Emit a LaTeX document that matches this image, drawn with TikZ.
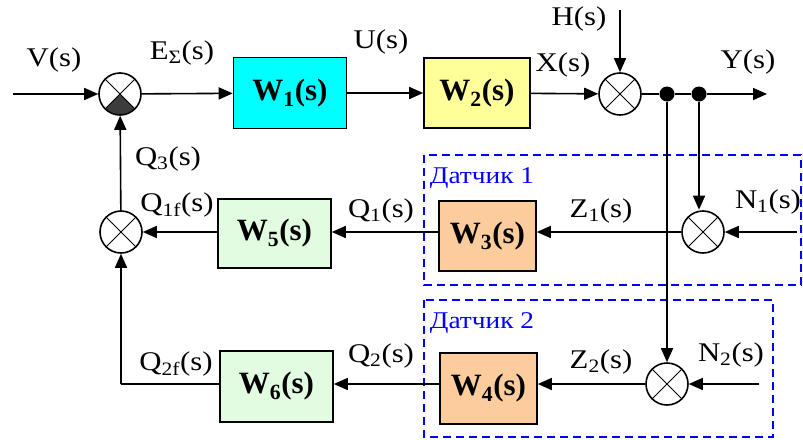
\documentclass[tikz,border=0pt]{standalone}
\usepackage{fontspec}
\setmainfont{Liberation Serif}[FakeStretch=1.14]
\newfontfamily\blockfont{Liberation Serif}
\usetikzlibrary{arrows.meta}

\definecolor{blkcyan}{RGB}{0,255,255}
\definecolor{blkyellow}{RGB}{255,255,153}
\definecolor{blkgreen}{RGB}{226,252,226}
\definecolor{blkorange}{RGB}{252,204,156}
\definecolor{sensorblue}{RGB}{0,0,255}
\definecolor{sectorgray}{RGB}{60,60,60}

\tikzset{
  sig/.style={line width=1.6pt, -{Triangle[length=14pt,width=12pt]}},
  wire/.style={line width=1.6pt},
  block/.style={draw, line width=1.6pt, inner sep=0pt,
    font=\blockfont\bfseries\fontsize{31}{35}\selectfont},
  sumj/.style={circle, draw, line width=1.6pt, minimum size=42pt, inner sep=0pt,
    path picture={
      \draw[line width=0.9pt] (path picture bounding box.north east) -- (path picture bounding box.south west);
      \draw[line width=0.9pt] (path picture bounding box.north west) -- (path picture bounding box.south east);
    }},
  sumdark/.style={sumj,
    path picture={
      \fill[sectorgray] (path picture bounding box.center) -- (path picture bounding box.south west)
        -- (path picture bounding box.south east) -- cycle;
      \draw[line width=0.9pt] (path picture bounding box.north east) -- (path picture bounding box.south west);
      \draw[line width=0.9pt] (path picture bounding box.north west) -- (path picture bounding box.south east);
    }},
  lbl/.style={inner sep=0pt, font=\fontsize{27}{30}\selectfont},
  sensor/.style={draw=sensorblue, line width=1.5pt, dash pattern=on 8pt off 5pt},
  sensorlbl/.style={inner sep=0pt, text=sensorblue, font=\fontsize{24}{28}\selectfont},
  dot/.style={circle, fill, inner sep=0pt, minimum size=15pt},
}

\begin{document}
\begin{tikzpicture}[x=1pt,y=-1pt]
  \useasboundingbox (0,0) rectangle (803,439);

  % sensor frames
  \draw[sensor] (424,155) rectangle (801,285);
  \draw[sensor] (424,300) rectangle (773,437);
  \node[sensorlbl] (d1) at (482,178) {Датчик 1};
  \node[sensorlbl] (d2) at (482,323) {Датчик 2};

  % forward path
  \coordinate (vin) at (13,94);
  \node[sumdark] (s0) at (120,94) {};
  \node[block, fill=blkcyan, minimum width=113pt, minimum height=71pt] (w1) at (290,93) {W\textsubscript{1}(s)};
  \node[block, fill=blkyellow, minimum width=106pt, minimum height=70pt] (w2) at (477,93) {W\textsubscript{2}(s)};
  \node[sumj] (s1) at (620,94) {};
  \coordinate (hin) at (620,10);
  \node[dot] (p1) at (667,94) {};
  \node[dot] (p2) at (699,94) {};
  \coordinate (yout) at (767,94);

  % sensor 1 branch
  \node[sumj] (s2) at (703,232) {};
  \coordinate (n1in) at (797,232);
  \node[block, fill=blkorange, minimum width=97pt, minimum height=70pt] (w3) at (487.5,236) {W\textsubscript{3}(s)};
  \node[block, fill=blkgreen, minimum width=113pt, minimum height=69pt] (w5) at (274.5,233.5) {W\textsubscript{5}(s)};
  \node[sumj] (s4) at (121,232) {};

  % sensor 2 branch
  \node[sumj] (s3) at (667,384) {};
  \coordinate (n2in) at (759,384);
  \node[block, fill=blkorange, minimum width=97pt, minimum height=71pt] (w4) at (488.5,388.5) {W\textsubscript{4}(s)};
  \node[block, fill=blkgreen, minimum width=113pt, minimum height=71pt] (w6) at (276.5,386.5) {W\textsubscript{6}(s)};
  \coordinate (corner) at (121,384);

  % connectors
  \draw[sig] (vin) -- (s0);
  \draw[sig] (s0) -- (w1);
  \draw[sig] (w1) -- (w2);
  \draw[sig] (w2) -- (s1);
  \draw[sig] (hin) -- (s1);
  \draw[wire] (s1) -- (p1) -- (p2);
  \draw[sig] (p2) -- (yout);
  \draw[sig] (p1) -- (s3);
  \draw[sig] (p2) -- ([yshift=0.5pt]p2 |- s2.north);
  \draw[sig] (n1in) -- (s2);
  \draw[sig] (s2) -- (s2 -| w3.east);
  \draw[sig] (w3.west |- s2) -- (w5.east |- s2);
  \draw[sig] (w5.west |- s4) -- (s4);
  \draw[sig] (s4) -- (s0);
  \draw[sig] (n2in) -- (s3);
  \draw[sig] (s3) -- (s3 -| w4.east);
  \draw[sig] (w4.west |- s3) -- (w6.east |- s3);
  \draw[wire] (w6.west |- s3) -- (corner);
  \draw[sig] (corner) -- (s4);

  % signal labels
  \node[lbl] (lv) at (54,60) {V(s)};
  \node[lbl] (le) at (182,53) {E\textsubscript{Σ}(s)};
  \node[lbl] (lu) at (381,42) {U(s)};
  \node[lbl] (lx) at (563,65) {X(s)};
  \node[lbl] (lh) at (579,19) {H(s)};
  \node[lbl] (ly) at (748,62) {Y(s)};
  \node[lbl] (lq3) at (168,159) {Q\textsubscript{3}(s)};
  \node[lbl] (lq1f) at (177,205) {Q\textsubscript{1f}(s)};
  \node[lbl] (lq1) at (381,211) {Q\textsubscript{1}(s)};
  \node[lbl] (lz1) at (601,211) {Z\textsubscript{1}(s)};
  \node[lbl] (ln1) at (768,202) {N\textsubscript{1}(s)};
  \node[lbl] (lq2f) at (176,364) {Q\textsubscript{2f}(s)};
  \node[lbl] (lq2) at (381,356) {Q\textsubscript{2}(s)};
  \node[lbl] (lz2) at (601,362) {Z\textsubscript{2}(s)};
  \node[lbl] (ln2) at (731,355) {N\textsubscript{2}(s)};
\end{tikzpicture}
\end{document}
